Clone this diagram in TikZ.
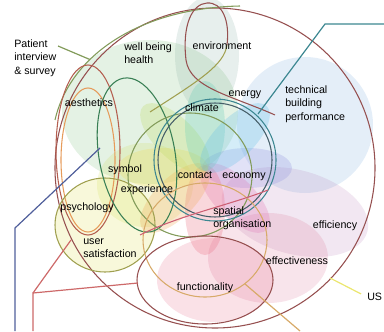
\documentclass[tikz,border=0pt]{standalone}
\usepackage{fontspec}
\setmainfont{Liberation Sans}
\definecolor{ringred}{RGB}{150,80,80}
\definecolor{ringbrick}{RGB}{180,95,80}
\definecolor{ringgreen}{RGB}{130,155,90}
\definecolor{ringolive}{RGB}{160,160,80}
\definecolor{ringteal}{RGB}{60,135,145}
\definecolor{ringslate}{RGB}{70,95,105}
\definecolor{ringorange}{RGB}{230,155,90}
\definecolor{ringtan}{RGB}{215,170,105}
\definecolor{ringrose}{RGB}{205,95,115}
\definecolor{lineblue}{RGB}{80,95,155}
\definecolor{linered}{RGB}{205,105,105}
\definecolor{lineyellow}{RGB}{235,230,110}
\begin{document}
\begin{tikzpicture}[x=0.75pt, y=-0.75pt,
    lbl/.style={font=\fontsize{8}{10}\selectfont, inner sep=0pt, align=left},
    petal/.style={fill opacity=0.17},
    wedge/.style={fill opacity=0.28},
    ring/.style={line width=0.8pt},
    leader/.style={line width=0.9pt}]
    \useasboundingbox (0,0) rectangle (384,331);

    % --- soft fills ---
    \fill[petal, fill={rgb,255:red,95;green,175;blue,95}] (150,112) ellipse [x radius=88, y radius=72];
    \fill[petal, fill={rgb,255:red,115;green,163;blue,147}] (207,55) ellipse [x radius=32, y radius=58];
    \fill[petal, fill={rgb,255:red,95;green,155;blue,215}] (305,125) circle [radius=68];
    \fill[petal, fill={rgb,255:red,175;green,115;blue,175}] (295,212) ellipse [x radius=75, y radius=42, rotate=-15];
    \fill[petal, fill={rgb,255:red,215;green,95;blue,135}] (268,258) ellipse [x radius=60, y radius=45];
    \fill[petal, fill={rgb,255:red,227;green,75;blue,115}] (215,280) ellipse [x radius=58, y radius=42];
    \fill[petal, fill={rgb,255:red,215;green,215;blue,35}] (105,225) ellipse [x radius=50, y radius=47];
    \fill[petal, fill={rgb,255:red,200;green,215;blue,60}] (145,185) ellipse [x radius=48, y radius=42];

    % --- flower round the contact point ---
    \fill[wedge, fill={rgb,255:red,150;green,150;blue,225}] (247,168) ellipse [x radius=45, y radius=20];
    \fill[wedge, fill={rgb,255:red,225;green,120;blue,185}] (235,198) ellipse [x radius=45, y radius=20, rotate=-45];
    \fill[wedge, fill={rgb,255:red,235;green,110;blue,130}] (205,210) ellipse [x radius=45, y radius=20, rotate=90];
    \fill[wedge, fill={rgb,255:red,240;green,170;blue,90}] (175,198) ellipse [x radius=45, y radius=20, rotate=45];
    \fill[wedge, fill={rgb,255:red,240;green,220;blue,90}] (163,168) ellipse [x radius=45, y radius=20];
    \fill[wedge, fill={rgb,255:red,190;green,220;blue,100}] (175,138) ellipse [x radius=45, y radius=20, rotate=-45];
    \fill[wedge, fill={rgb,255:red,100;green,205;blue,180}] (205,126) ellipse [x radius=45, y radius=20, rotate=90];
    \fill[wedge, fill={rgb,255:red,100;green,190;blue,230}] (235,138) ellipse [x radius=45, y radius=20, rotate=45];

    % --- outlines ---
    \draw[ring, ringred] (215,168) circle [radius=160];
    \draw[ring, ringgreen] (55,120) .. controls (70,55) and (140,8) .. coordinate[pos=0.35] (gP) (240,6);
    \draw[ring, ringred] (275,115) .. controls (230,95) and (190,88) .. (186,60)
        .. controls (182,25) and (192,4) .. (207,3) .. controls (222,2) and (230,20) .. (227,45);
    \draw[ring, ringolive] (227,45) .. controls (224,65) and (200,80) .. (150,112);
    \draw[ring, ringbrick] (88,150) ellipse [x radius=32, y radius=85];
    \draw[ring, ringorange] (88,160) ellipse [x radius=27, y radius=72];
    \draw[ring, ringolive] (105,225) ellipse [x radius=50, y radius=47];
    \draw[ring, ringslate!80!green] (137,155) ellipse [x radius=38, y radius=78, rotate=10];
    \draw[ring, ringgreen] (190,175) circle [radius=62];
    \draw[ring, ringslate] (215,160) circle [radius=57];
    \draw[ring, ringteal] (215,160) circle [radius=61];
    \draw[ring, ringtan] (205,240) ellipse [x radius=62, y radius=57];
    \draw[ring, ringred] (205,280) ellipse [x radius=68, y radius=44];
    \draw[ring, ringrose] (140,235) .. controls (180,215) and (230,205) .. (268,190);

    % --- labels ---
    \node[lbl, anchor=west] (pat) at (14,58) {Patient\\interview\\\& survey};
    \node[lbl, anchor=west] (wel) at (124,53) {well being\\health};
    \node[lbl] (env) at (222,46) {environment};
    \node[lbl] (ene) at (245,95) {energy};
    \node[lbl, anchor=west] (tec) at (285,104) {technical\\building\\performance};
    \node[lbl] (cli) at (202,108) {climate};
    \node[lbl] (aes) at (89,103) {aesthetics};
    \node[lbl] (sym) at (125,170) {symbol};
    \node[lbl] (exp) at (147,190) {experience};
    \node[lbl] (con) at (195,175) {contact};
    \node[lbl] (eco) at (244,177) {economy};
    \node[lbl, anchor=west] (spa) at (213,218) {spatial\\organisation};
    \node[lbl] (effi) at (335,226) {efficiency};
    \node[lbl] (effe) at (297,261) {effectiveness};
    \node[lbl] (fun) at (205,288) {functionality};
    \node[lbl] (psy) at (87,208) {psychology};
    \node[lbl, anchor=west] (usr) at (83,248) {user\\satisfaction};
    \node[lbl, anchor=west] (us) at (367,297) {US};

    % --- leader lines ---
    \coordinate (patL) at (58,46);
    \draw[leader, ringgreen] (patL) -- (gP);

    \coordinate (bB) at (15,331);
    \coordinate (bK) at (15,228);
    \coordinate (bE) at (100,148);
    \draw[leader, lineblue] (bB) -- (bK) -- (bE);

    \coordinate (rB) at (33,331);
    \coordinate (rK) at (33,293);
    \coordinate (rE) at (138,283);
    \coordinate (rF) at (71,240);
    \draw[leader, linered] (rB) -- (rK) -- (rE);
    \draw[leader, linered] (rK) -- (rF);

    \coordinate (tB) at (384,24);
    \coordinate (tK) at (325,24);
    \coordinate (tE) at (258,114);
    \draw[leader, ringteal] (tB) -- (tK) -- (tE);

    \coordinate (yB) at (330,278);
    \draw[leader, lineyellow, shorten >=5pt] (yB) -- (us.west);

    \coordinate (oB) at (245,284);
    \coordinate (oE) at (300,331);
    \draw[leader, ringtan] (oB) -- (oE);
\end{tikzpicture}
\end{document}
